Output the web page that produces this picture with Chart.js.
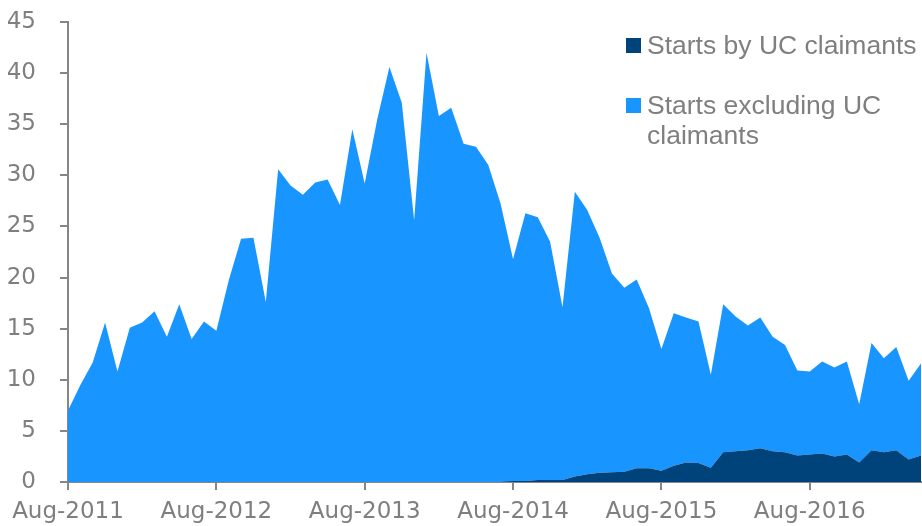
<!DOCTYPE html>
<html>
<head>
<meta charset="utf-8">
<script src="https://cdn.jsdelivr.net/npm/chart.js@4/dist/chart.umd.min.js"></script>
<style>
html,body{margin:0;padding:0;background:#fff;}
#wrap{width:922px;height:526px;position:relative;}
</style>
</head>
<body>
<div id="wrap"><canvas id="c"></canvas></div>
<script>
const months = [
"Aug-2011","Sep-2011","Oct-2011","Nov-2011","Dec-2011","Jan-2012","Feb-2012","Mar-2012","Apr-2012","May-2012","Jun-2012","Jul-2012",
"Aug-2012","Sep-2012","Oct-2012","Nov-2012","Dec-2012","Jan-2013","Feb-2013","Mar-2013","Apr-2013","May-2013","Jun-2013","Jul-2013",
"Aug-2013","Sep-2013","Oct-2013","Nov-2013","Dec-2013","Jan-2014","Feb-2014","Mar-2014","Apr-2014","May-2014","Jun-2014","Jul-2014",
"Aug-2014","Sep-2014","Oct-2014","Nov-2014","Dec-2014","Jan-2015","Feb-2015","Mar-2015","Apr-2015","May-2015","Jun-2015","Jul-2015",
"Aug-2015","Sep-2015","Oct-2015","Nov-2015","Dec-2015","Jan-2016","Feb-2016","Mar-2016","Apr-2016","May-2016","Jun-2016","Jul-2016",
"Aug-2016","Sep-2016","Oct-2016","Nov-2016","Dec-2016","Jan-2017","Feb-2017","Mar-2017","Apr-2017","May-2017"
];
const tickLabels = ["Aug-2011","Aug-2012","Aug-2013","Aug-2014","Aug-2015","Aug-2016"];
const seriesNames = ["Starts by UC claimants", "Starts excluding UC claimants"];
const legendLines = [["Starts by UC claimants"], ["Starts excluding UC", "claimants"]];

const ucStarts = [
0,0,0,0,0,0,0,0,0,0,0,0,
0,0,0,0,0,0,0,0,0,0,0,0,
0,0,0,0,0,0,0,0,0,0,0,0,
0.1,0.1,0.2,0.2,0.2,0.55,0.75,0.9,0.95,1.0,1.35,1.35,
1.1,1.6,1.9,1.85,1.4,2.9,3.0,3.1,3.3,3.0,2.9,2.6,
2.7,2.8,2.5,2.7,1.9,3.1,2.9,3.1,2.2,2.6
];
const otherStarts = [
7.0,9.5,11.7,15.6,10.8,15.1,15.6,16.7,14.2,17.4,14.0,15.7,
14.8,19.7,23.8,23.9,17.6,30.6,29.0,28.1,29.3,29.6,27.1,34.5,
29.2,35.4,40.6,37.1,25.6,42.0,35.8,36.6,33.1,32.8,31.0,27.2,
21.7,26.2,25.7,23.3,16.9,27.85,25.85,23.0,19.45,18.0,18.45,15.65,
11.9,14.9,14.2,13.85,9.1,14.5,13.2,12.2,12.8,11.2,10.5,8.3,
8.1,9.0,8.7,9.1,5.7,10.5,9.2,10.1,7.7,9.0
];

const darkColor = '#00427A';
const lightColor = '#1895FF';
const textColor = '#7F7F7F';
const axisColor = '#868686';
const legendFont = '"Liberation Sans", Arial, sans-serif';
const tickFont = '"DejaVu Sans", "Liberation Sans", sans-serif';

const legendPlugin = {
  id: 'customLegend',
  afterDraw(chart) {
    const ctx = chart.ctx;
    ctx.save();
    ctx.font = '26.5px ' + legendFont;
    ctx.textBaseline = 'alphabetic';
    ctx.textAlign = 'left';
    const ds = chart.data.datasets;
    const items = [
      {color: ds[0].backgroundColor, lines: legendLines[0], y: 54},
      {color: ds[1].backgroundColor, lines: legendLines[1], y: 114}
    ];
    items.forEach(it => {
      ctx.fillStyle = it.color;
      ctx.fillRect(626, it.y - 16, 15, 15);
      ctx.fillStyle = textColor;
      it.lines.forEach((ln, k) => ctx.fillText(ln, 647, it.y + k * 30));
    });
    ctx.restore();
  }
};

new Chart(document.getElementById('c'), {
  type: 'line',
  data: {
    labels: months,
    datasets: [
      {label: seriesNames[0], data: ucStarts, backgroundColor: darkColor, borderColor: darkColor,
       borderWidth: 0, pointRadius: 0, fill: 'origin', tension: 0},
      {label: seriesNames[1], data: otherStarts, backgroundColor: lightColor, borderColor: lightColor,
       borderWidth: 0, pointRadius: 0, fill: '-1', tension: 0}
    ]
  },
  options: {
    responsive: true,
    maintainAspectRatio: false,
    animation: false,
    layout: {padding: {left: 8, right: 1, top: 22, bottom: 0}},
    plugins: {legend: {display: false}, tooltip: {enabled: false}},
    scales: {
      x: {
        stacked: true,
        offset: false,
        afterFit: function(s) { s.height = 44; s.paddingLeft = 0; s.paddingRight = 0; },
        border: {display: true, color: axisColor, width: 2},
        grid: {drawOnChartArea: false, drawTicks: true, tickLength: 8, color: axisColor, lineWidth: 2},
        ticks: {
          autoSkip: false, maxRotation: 0, minRotation: 0, padding: 8,
          color: textColor, font: {family: tickFont, size: 23},
          callback: function(v, i) { const l = months[i]; return tickLabels.includes(l) ? l : null; }
        }
      },
      y: {
        stacked: true,
        min: 0, max: 45,
        afterFit: function(s) { s.width = 60; s.paddingTop = 0; s.paddingBottom = 0; },
        border: {display: true, color: axisColor, width: 2},
        grid: {drawOnChartArea: false, drawTicks: true, tickLength: 8, color: axisColor, lineWidth: 2},
        ticks: {stepSize: 5, padding: 24, color: textColor, font: {family: tickFont, size: 23}}
      }
    }
  },
  plugins: [legendPlugin]
});
</script>
</body>
</html>
